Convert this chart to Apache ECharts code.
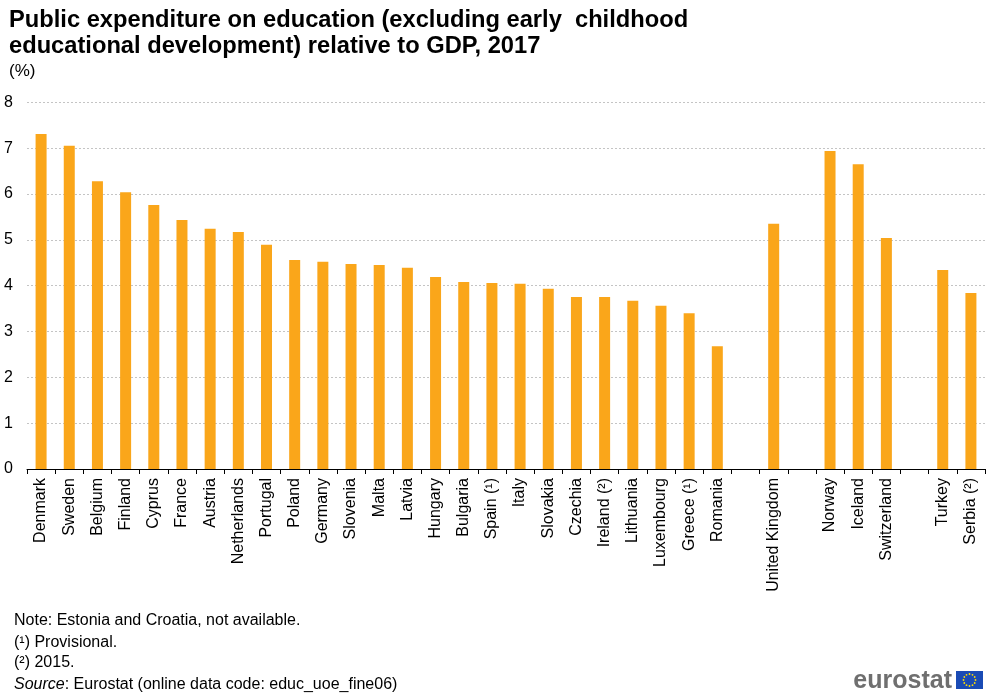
<!DOCTYPE html>
<html>
<head>
<meta charset="utf-8">
<script src="https://cdn.jsdelivr.net/npm/echarts@6/dist/echarts.min.js"></script>
<style>
html,body{margin:0;padding:0;background:#fff;}
#chart{width:1000px;height:698px;}
</style>
</head>
<body>
<div id="chart"></div>
<script>
var categories = ['Denmark','Sweden','Belgium','Finland','Cyprus','France','Austria','Netherlands','Portugal','Poland','Germany','Slovenia','Malta','Latvia','Hungary','Bulgaria','Spain (\u00b9)','Italy','Slovakia','Czechia','Ireland (\u00b2)','Lithuania','Luxembourg','Greece (\u00b9)','Romania','','United Kingdom','','Norway','Iceland','Switzerland','','Turkey','Serbia (\u00b2)'];
var values = [7.31,7.05,6.28,6.04,5.76,5.43,5.24,5.17,4.89,4.56,4.52,4.47,4.45,4.39,4.19,4.08,4.06,4.04,3.93,3.75,3.75,3.67,3.56,3.40,2.68,null,5.35,null,6.94,6.65,5.04,null,4.34,3.84];
var titleLines = ['Public expenditure on education (excluding early  childhood', 'educational development) relative to GDP, 2017'];
var unitText = '(%)';
var notes = ['Note: Estonia and Croatia, not available.', '(\u00b9) Provisional.', '(\u00b2) 2015.'];
var sourceText = ': Eurostat (online data code: educ_uoe_fine06)';

var FONT = "'Liberation Sans', Arial, sans-serif";
var chart = echarts.init(document.getElementById('chart'), null, {renderer:'canvas'});

var graphics = [];
var noteY = [621, 643, 663];
notes.forEach(function(t, i){
  graphics.push({type:'text', x:14, y:noteY[i], style:{text:t, font:'16px ' + FONT, fill:'#000', verticalAlign:'middle'}});
});
graphics.push({type:'text', x:14, y:685, style:{text:'{i|Source}{n|' + sourceText + '}', verticalAlign:'middle', rich:{i:{fontStyle:'italic', fontSize:16, fontFamily:FONT, fill:'#000'}, n:{fontSize:16, fontFamily:FONT, fill:'#000'}}}});
graphics.push({type:'text', right:48, y:681, style:{text:'eurostat', font:'bold 25px ' + FONT, fill:'#6f6f6f', verticalAlign:'middle'}});
// EU flag
var flagChildren = [{type:'rect', shape:{x:0, y:0, width:27, height:18}, style:{fill:'#1a4bb5'}}];
for (var k = 0; k < 12; k++) {
  var a = k * Math.PI / 6;
  flagChildren.push({type:'circle', shape:{cx:13.5 + 6*Math.cos(a), cy:9 + 6*Math.sin(a), r:0.9}, style:{fill:'#ffdd00'}});
}
graphics.push({type:'group', x:956, y:671, children:flagChildren});

chart.setOption({
  animation:false,
  backgroundColor:'#fff',
  title:[
    {text:titleLines.join('\n'), left:4, top:2, textStyle:{fontFamily:FONT, fontSize:23.7, fontWeight:'bold', color:'#000', lineHeight:26}},
    {text:unitText, left:4, top:56, textStyle:{fontFamily:FONT, fontSize:17, fontWeight:'normal', color:'#000', lineHeight:20}}
  ],
  grid:{left:27, right:15, top:102.3, bottom:229, containLabel:false},
  xAxis:{
    type:'category',
    data:categories,
    axisLine:{show:true, lineStyle:{color:'#000', width:1}},
    axisTick:{show:true, interval:0, length:5, lineStyle:{color:'#000'}},
    axisLabel:{interval:0, rotate:90, fontSize:16, fontFamily:FONT, color:'#000', margin:9},
    splitLine:{show:false}
  },
  yAxis:{
    type:'value', min:0, max:8, interval:1,
    axisLine:{show:false}, axisTick:{show:false},
    axisLabel:{fontSize:16, fontFamily:FONT, color:'#000', margin:14},
    splitLine:{show:true, lineStyle:{color:'#c4c4c4', type:[2,2], width:1}}
  },
  series:[{
    type:'bar', data:values, barWidth:11,
    itemStyle:{color:'#FAA61A'}
  }],
  graphic:graphics
});
</script>
</body>
</html>
